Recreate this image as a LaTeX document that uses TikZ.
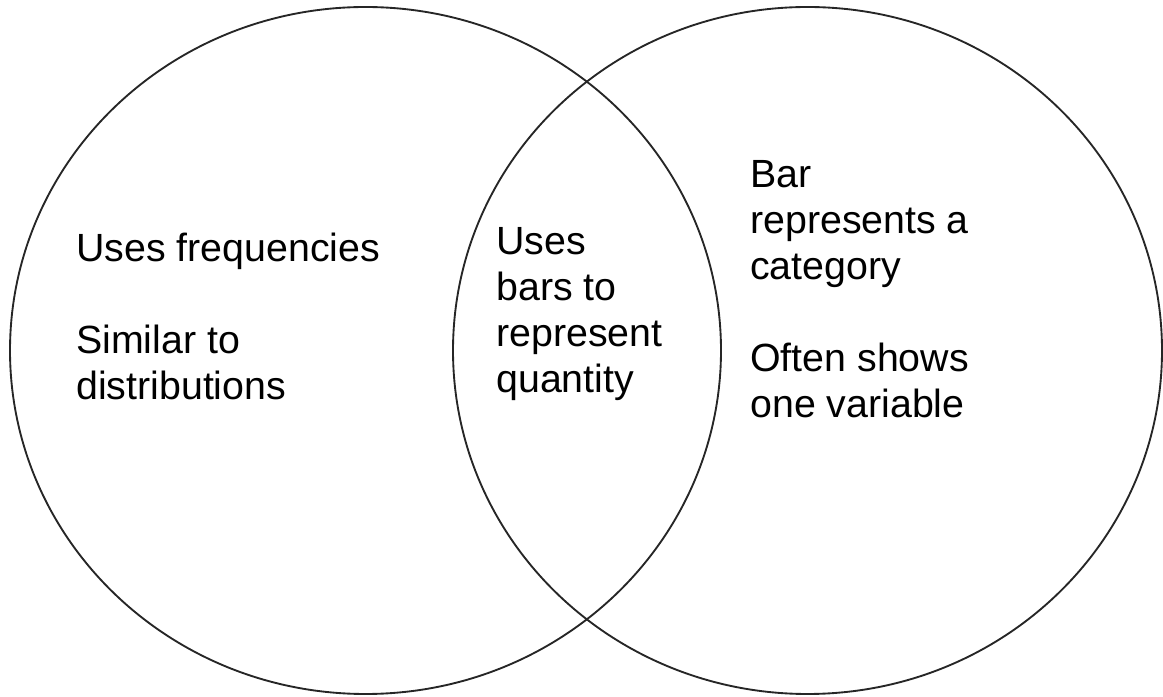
\documentclass[tikz,border=0pt]{standalone}
\usepackage{fontspec}
\setmainfont{Liberation Sans}

\begin{document}
\begin{tikzpicture}[x=0.75pt, y=0.75pt,
    set/.style={line width=1.4pt, black!85},
    txt/.style={anchor=base west, align=left, inner sep=0pt,
        font=\fontsize{29.5}{34.6}\selectfont}]
    \useasboundingbox (0,0) rectangle (1163,696);

    % the two sets
    \draw[set] (365.5,345.5) ellipse [x radius=355.5, y radius=343.5];
    \draw[set] (807.5,345.5) ellipse [x radius=354.5, y radius=343.5];

    % left part only (base is the last line)
    \node[txt] (L) at (76,296) {Uses frequencies\\[34.6pt]Similar to\\distributions};
    % overlap
    \node[txt] (M) at (496,303) {Uses\\bars to\\represent\\quantity};
    % right part only
    \node[txt] (R) at (750,278) {Bar\\represents a\\category\\[34.6pt]Often shows\\one variable};
\end{tikzpicture}
\end{document}
